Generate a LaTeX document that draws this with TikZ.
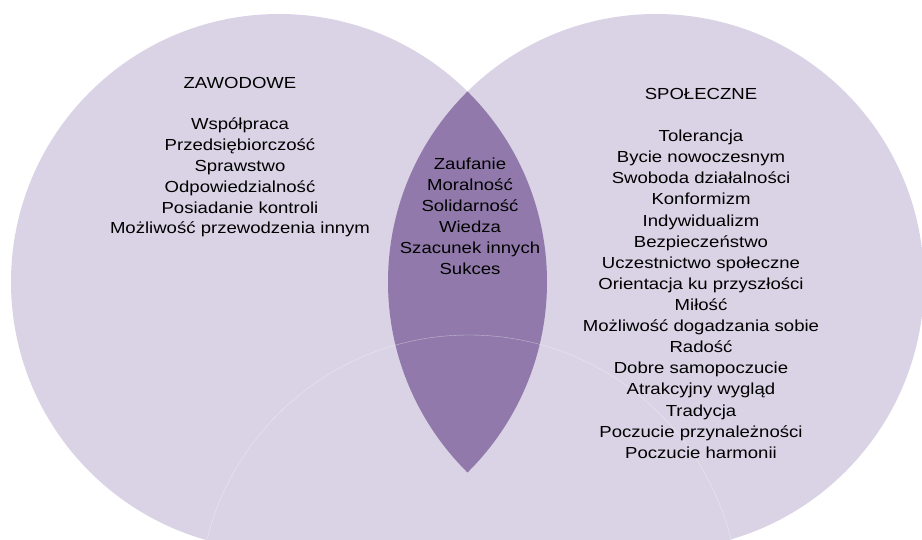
\documentclass[tikz,border=0pt]{standalone}
\usepackage{fontspec}
\setmainfont{Liberation Sans}[FakeStretch=1.16]
\definecolor{lightv}{RGB}{217,211,229}
\definecolor{darkv}{RGB}{145,122,171}
\begin{document}
\begin{tikzpicture}[x=1pt,y=-1pt,
  lbl/.style={font=\fontsize{16}{21}\selectfont, anchor=base, inner sep=0pt, text=black}]
\useasboundingbox (0,0) rectangle (922,540);
\clip (0,0) rectangle (922,540);
\coordinate (A) at (279,282);
\coordinate (B) at (656,282);
\coordinate (C) at (469,605);
\fill[lightv] (C) circle[radius=270pt];
\fill[lightv] (A) circle[radius=268pt];
\fill[lightv] (B) circle[radius=268pt];
\begin{scope}
  \clip (A) circle[radius=268pt];
  \fill[darkv] (B) circle[radius=268pt];
\end{scope}
\draw[white, opacity=0.45, line width=0.4pt] (C) circle[radius=270pt];
% titles
\node[lbl] (tz) at (240,88.5) {ZAWODOWE};
\node[lbl] (ts) at (701,100) {SPOŁECZNE};
% left list
\foreach \t [count=\i] in {Współpraca,Przedsiębiorczość,Sprawstwo,Odpowiedzialność,Posiadanie kontroli,Możliwość przewodzenia innym}
  \node[lbl] (l\i) at (240,{130+20.8*(\i-1)}) {\t};
% lens list
\foreach \t [count=\i] in {Zaufanie,Moralność,Solidarność,Wiedza,Szacunek innych,Sukces}
  \node[lbl] (m\i) at (470,{169.3+21*(\i-1)}) {\t};
% right list
\foreach \t [count=\i] in {Tolerancja,Bycie nowoczesnym,Swoboda działalności,Konformizm,Indywidualizm,Bezpieczeństwo,Uczestnictwo społeczne,Orientacja ku przyszłości,Miłość,Możliwość dogadzania sobie,Radość,Dobre samopoczucie,Atrakcyjny wygląd,Tradycja,Poczucie przynależności,Poczucie harmonii}
  \node[lbl] (r\i) at (701,{141.7+21.1*(\i-1)}) {\t};
\end{tikzpicture}
\end{document}
